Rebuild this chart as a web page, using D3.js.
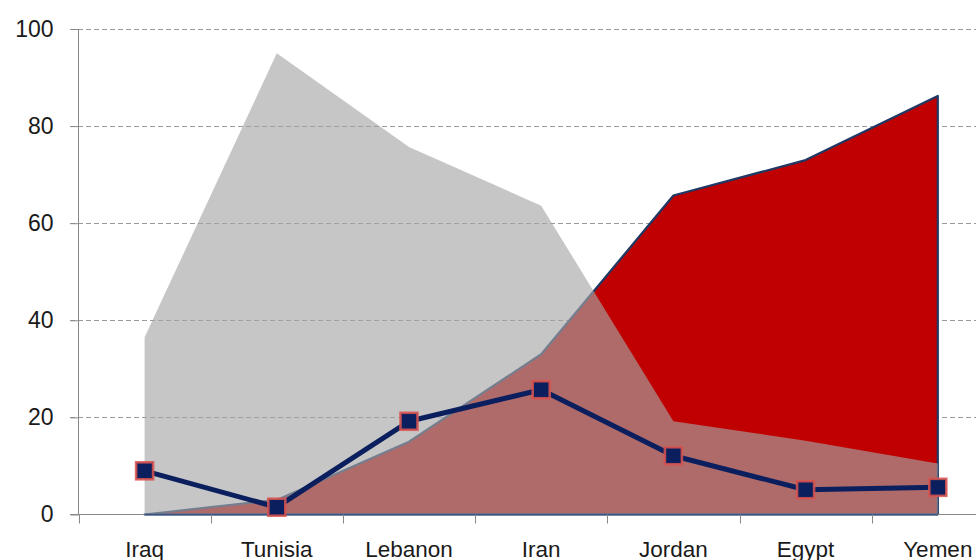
<!DOCTYPE html>
<html>
<head>
<meta charset="utf-8">
<script src="https://cdn.jsdelivr.net/npm/d3@7/dist/d3.min.js"></script>
<style>
  html, body { margin: 0; padding: 0; background: #fff; overflow: hidden; }
  svg { display: block; }
</style>
</head>
<body>
<svg id="chart" width="976" height="560"></svg>
<script>
const categories = ["Iraq", "Tunisia", "Lebanon", "Iran", "Jordan", "Egypt", "Yemen"];
const grayValues = [36.5, 95, 75.7, 63.6, 19.2, 15.2, 10.5];
const redValues  = [0, 3, 15, 33, 65.7, 73, 86.2];
const lineValues = [9, 1.5, 19.2, 25.7, 12.1, 5.1, 5.6];
const yTicks = [0, 20, 40, 60, 80, 100];

const svg = d3.select("#chart");
const x0 = 78.5, bandW = 132.2;
const x = d3.scaleBand().domain(categories).range([x0, x0 + bandW * categories.length]).padding(0);
const cx = d => x(d) + x.bandwidth() / 2;
const y = d3.scaleLinear().domain([0, 100]).range([514.5, 29]);
const fontFam = "'Liberation Sans', Arial, sans-serif";

// gridlines
svg.append("g").selectAll("line").data(yTicks.filter(t => t > 0)).join("line")
  .attr("x1", 70).attr("x2", 976)
  .attr("y1", d => Math.round(y(d)) + 0.5).attr("y2", d => Math.round(y(d)) + 0.5)
  .attr("stroke", "#9a9a9a").attr("stroke-width", 1).attr("stroke-dasharray", "5,3");

// red area (opaque)
const redData = categories.map((c, i) => ({c, v: redValues[i]}));
const areaRed = d3.area().x(d => cx(d.c)).y0(y(0)).y1(d => y(d.v));
svg.append("path").datum(redData).attr("d", areaRed)
  .attr("fill", "#C00000").attr("stroke", "#1F3864").attr("stroke-width", 2.2)
  .attr("stroke-linejoin", "round");

// gray area (semi-transparent, on top)
const grayData = categories.map((c, i) => ({c, v: grayValues[i]}));
const areaGray = d3.area().x(d => cx(d.c)).y0(y(0)).y1(d => y(d.v));
svg.append("path").datum(grayData).attr("d", areaGray)
  .attr("fill", "rgb(166,166,166)").attr("fill-opacity", 0.64);

// axes
const yAxis = d3.axisLeft(y).tickValues(yTicks).tickSize(8).tickPadding(17).tickFormat(d3.format("d"));
const gy = svg.append("g").attr("transform", `translate(${x0},0)`).call(yAxis);
gy.select(".domain").attr("stroke", "#888").attr("d", `M0,${y(100)}V${y(0)}`);
gy.selectAll(".tick line").attr("stroke", "#888");
gy.selectAll(".tick text").attr("font-family", fontFam).attr("font-size", 23).attr("fill", "#1a1a1a");

// x axis line
svg.append("line").attr("x1", 70).attr("x2", 976).attr("y1", y(0)).attr("y2", y(0))
  .attr("stroke", "#888").attr("stroke-width", 1);
// red base outline over axis
svg.append("line").attr("x1", cx(categories[0])).attr("x2", cx(categories[categories.length - 1]))
  .attr("y1", y(0)).attr("y2", y(0)).attr("stroke", "#3a5585").attr("stroke-width", 1.6);

const xTickPos = d3.range(categories.length + 1).map(i => x0 + i * bandW).filter(p => p < 976);
svg.append("g").selectAll("line").data(xTickPos).join("line")
  .attr("x1", d => Math.round(d) + 0.5).attr("x2", d => Math.round(d) + 0.5)
  .attr("y1", y(0)).attr("y2", y(0) + 9).attr("stroke", "#888");

svg.append("g").selectAll("text").data(categories).join("text")
  .attr("x", d => cx(d)).attr("y", 557).attr("text-anchor", "middle")
  .attr("font-family", fontFam).attr("font-size", 22.5).attr("fill", "#1a1a1a")
  .text(d => d);

// line series
const lineData = categories.map((c, i) => ({c, v: lineValues[i]}));
const line = d3.line().x(d => cx(d.c)).y(d => y(d.v));
svg.append("path").datum(lineData).attr("d", line)
  .attr("fill", "none").attr("stroke", "#0B1F5E").attr("stroke-width", 5)
  .attr("stroke-linejoin", "round");

const ms = 17;
svg.append("g").selectAll("rect").data(lineData).join("rect")
  .attr("x", d => cx(d.c) - ms / 2).attr("y", d => y(d.v) - ms / 2)
  .attr("width", ms).attr("height", ms)
  .attr("fill", "#0B1F5E").attr("stroke", "#D9534F").attr("stroke-width", 2.6)
  .attr("stroke-opacity", 0.85);
</script>
</body>
</html>
